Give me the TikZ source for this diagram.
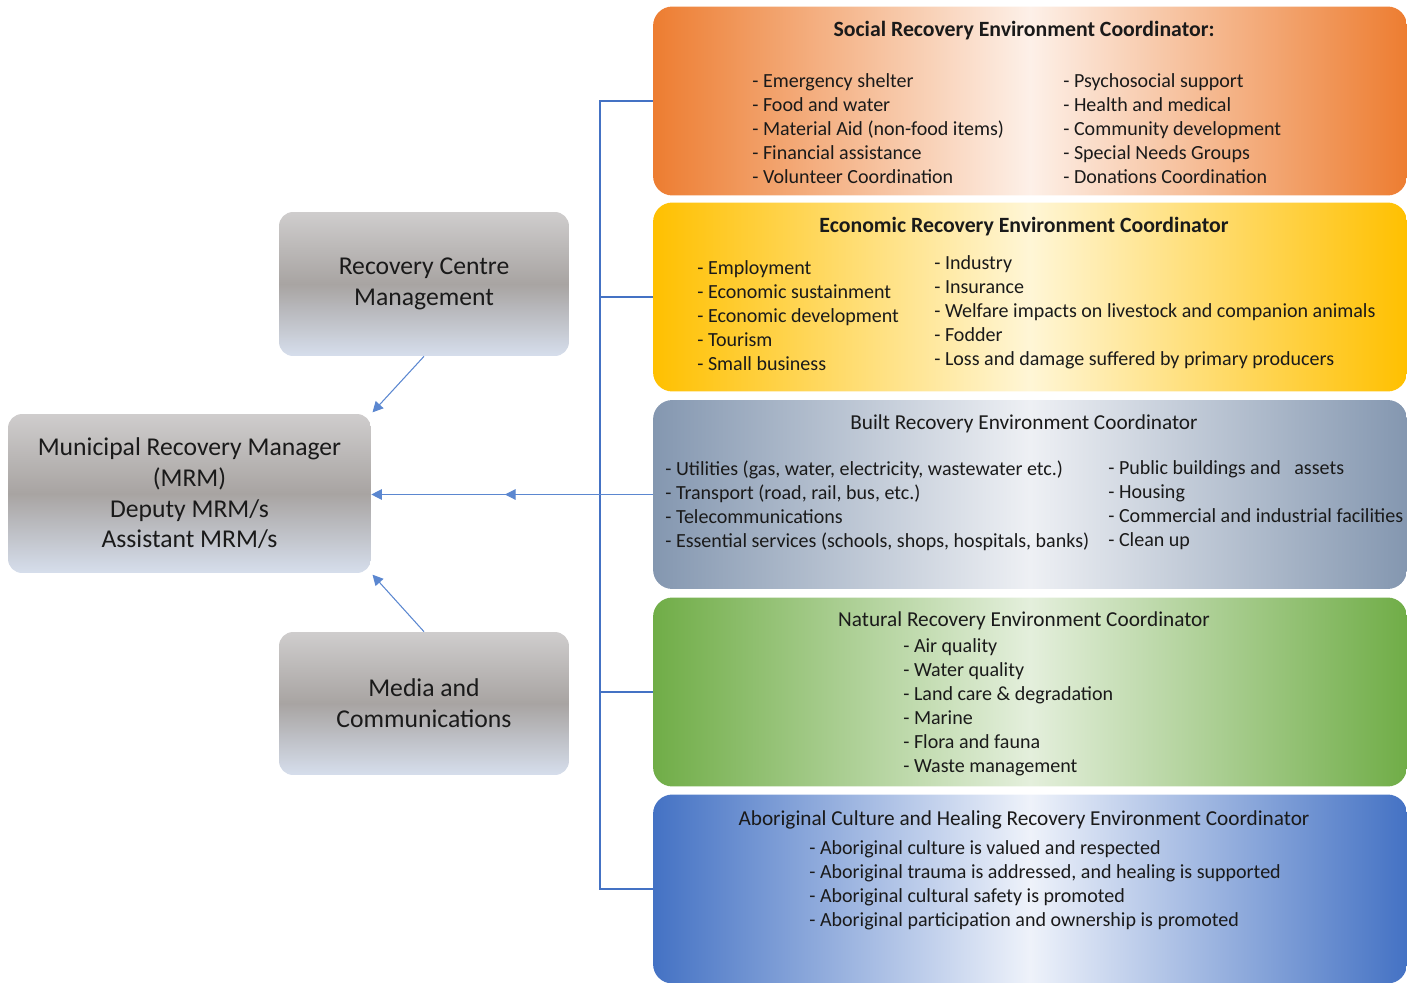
\documentclass[tikz,border=0pt]{standalone}
\usepackage{fontspec}
\setmainfont{Carlito}
\usepackage{xcolor}
\usetikzlibrary{arrows.meta, positioning, calc, decorations.markings}
\definecolor{busblue}{HTML}{4472C4}
\definecolor{linkblue}{HTML}{5B87D0}
\definecolor{inkcol}{HTML}{1A1A1A}
\definecolor{orangecol}{HTML}{ED7D31}
\definecolor{orangemid}{HTML}{FDF0E8}
\definecolor{goldcol}{HTML}{FFC000}
\definecolor{goldmid}{HTML}{FFF6D6}
\definecolor{slatecol}{HTML}{8497B0}
\definecolor{slatemid}{HTML}{EEF0F4}
\definecolor{leafcol}{HTML}{70AD47}
\definecolor{leafmid}{HTML}{E4EFDC}
\definecolor{royalcol}{HTML}{4472C4}
\definecolor{royalmid}{HTML}{EEF2FA}
\definecolor{greytop}{HTML}{CFCDCD}
\definecolor{greymid}{HTML}{A8A4A2}
\definecolor{greybot}{HTML}{D6DEEC}

\begin{document}
\begin{tikzpicture}[x=0.02cm, y=-0.02cm,
  area/.style={rectangle, rounded corners=11pt, inner sep=0pt,
               minimum width=15.08cm, minimum height=3.78cm},
  rolebox/.style={rectangle, rounded corners=8pt, inner sep=0pt,
                  top color=greytop, bottom color=greybot, middle color=greymid,
                  align=center, text=inkcol, font=\fontsize{14.6}{17.5}\selectfont},
  heading/.style={inner sep=0pt, text=inkcol, font=\fontsize{12.1}{14}\selectfont},
  items/.style={anchor=north west, align=left, inner sep=0pt, text=inkcol,
                font=\fontsize{11.4}{13.7}\selectfont},
  bus/.style={busblue, line width=1.1pt},
  link/.style={linkblue, line width=0.6pt, -{Triangle[length=6pt, width=6pt]}},
]
  \useasboundingbox (0,0) rectangle (1413,983);

  % coordinator areas
  \node[area, left color=orangecol, right color=orangecol, middle color=orangemid] (social) at (1030,101) {};
  \node[area, left color=goldcol, right color=goldcol, middle color=goldmid] (econ) at (1030,297) {};
  \node[area, left color=slatecol, right color=slatecol, middle color=slatemid] (built) at (1030,494.5) {};
  \node[area, left color=leafcol, right color=leafcol, middle color=leafmid] (natural) at (1030,692) {};
  \node[area, left color=royalcol, right color=royalcol, middle color=royalmid] (abor) at (1030,889) {};

  \node[heading, font=\fontsize{12.4}{14}\selectfont\bfseries] (social-head) at (1024,31)
    {Social Recovery Environment Coordinator:};
  \node[items] (social-l) at (752,73) {- Emergency shelter\\- Food and water\\- Material Aid (non-food items)\\- Financial assistance\\- Volunteer Coordination};
  \node[items] (social-r) at (1063,73) {- Psychosocial support\\- Health and medical\\- Community development\\- Special Needs Groups\\- Donations Coordination};

  \node[heading, font=\fontsize{12.4}{14}\selectfont\bfseries] (econ-head) at (1024,227)
    {Economic Recovery Environment Coordinator};
  \node[items] (econ-l) at (697,260) {- Employment\\- Economic sustainment\\- Economic development\\- Tourism\\- Small business};
  \node[items] (econ-r) at (934,255) {- Industry\\- Insurance\\- Welfare impacts on livestock and companion animals\\- Fodder\\- Loss and damage suffered by primary producers};

  \node[heading] (built-head) at (1024,424) {Built Recovery Environment Coordinator};
  \node[items] (built-l) at (665,460) {- Utilities (gas, water, electricity, wastewater etc.)\\- Transport (road, rail, bus, etc.)\\- Telecommunications\\- Essential services (schools, shops, hospitals, banks)};
  \node[items] (built-r) at (1108,460) {- Public buildings and\ \ \ assets\\- Housing\\- Commercial and industrial facilities\\- Clean up};

  \node[heading] (natural-head) at (1024,621) {Natural Recovery Environment Coordinator};
  \node[items] (natural-l) at (903,638) {- Air quality\\- Water quality\\- Land care \& degradation\\- Marine\\- Flora and fauna\\- Waste management};

  \node[heading] (abor-head) at (1024,820) {Aboriginal Culture and Healing Recovery Environment Coordinator};
  \node[items] (abor-l) at (809,840) {- Aboriginal culture is valued and respected\\- Aboriginal trauma is addressed, and healing is supported\\- Aboriginal cultural safety is promoted\\- Aboriginal participation and ownership is promoted};

  % management roles
  \node[rolebox, minimum width=5.8cm, minimum height=2.88cm] (rcm) at (424,284) {Recovery Centre\\Management};
  \node[rolebox, minimum width=7.26cm, minimum height=3.18cm] (mrm) at (189.5,493.5)
    {Municipal Recovery Manager\\(MRM)\\Deputy MRM/s\\Assistant MRM/s};
  \node[rolebox, minimum width=5.8cm, minimum height=2.86cm] (media) at (424,703.5) {Media and\\Communications};

  % connectors
  \coordinate (trunk) at (600,0);
  \draw[bus] (social.west) -- (social.west -| trunk) -- (abor.west -| trunk) -- (abor.west);
  \foreach \area in {econ, natural} {
    \draw[bus] (\area.west) -- (\area.west -| trunk);
  }
  \draw[link, postaction={decorate}, decoration={markings,
        mark=at position 0.525 with {\arrow{Triangle[length=6pt, width=6pt]}}}]
    (built.west) -- (built.west -| mrm.east);
  \draw[link, shorten >=1pt] (rcm.south) -- (mrm.north east);
  \draw[link, shorten >=1pt] (media.north) -- (mrm.south east);
\end{tikzpicture}
\end{document}
